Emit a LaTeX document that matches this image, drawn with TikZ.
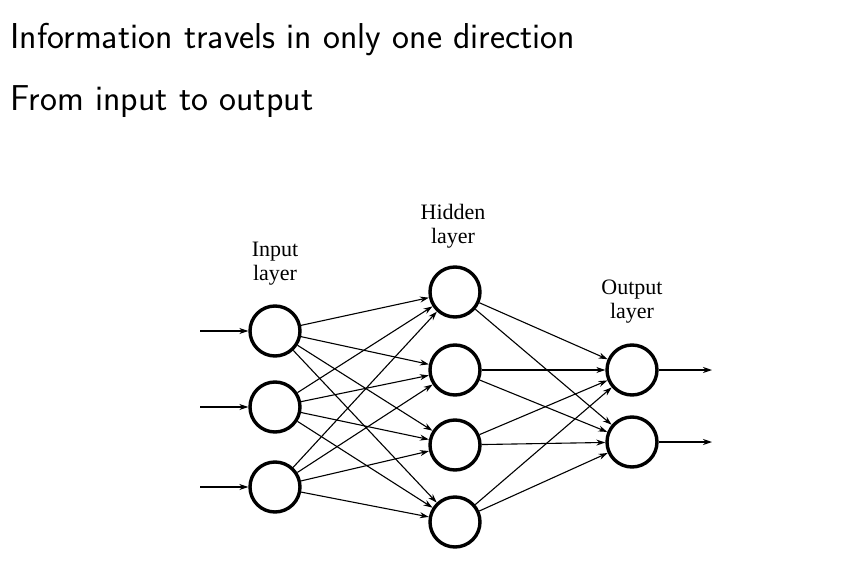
\documentclass[tikz,border=0pt]{standalone}
\usepackage{fontspec}
\newfontfamily\labelfont{Liberation Serif}
\usetikzlibrary{arrows.meta}
\tikzset{
  neuron/.style={circle,draw,line width=3.4pt,minimum size=50pt,inner sep=0pt},
  link/.style={-{Stealth[length=9pt,width=6pt]},line width=1.1pt},
  layername/.style={font=\labelfont\fontsize{22}{24}\selectfont,align=center},
  heading/.style={anchor=base west,font=\sffamily\fontsize{36}{38}\selectfont}
}
\begin{document}
\begin{tikzpicture}[x=1pt,y=-1pt]
    \useasboundingbox (0,0) rectangle (860,581);

    \node[heading] (t1) at (7,48) {Information travels in only one direction};
    \node[heading] (t2) at (7,110) {From input to output};

    % layers
    \foreach \i/\y in {1/331,2/407,3/487}
      \node[neuron] (in\i) at (275,\y) {};
    \foreach \i/\y in {1/292,2/370,3/445,4/522}
      \node[neuron] (hid\i) at (455,\y) {};
    \foreach \i/\y in {1/370,2/442}
      \node[neuron] (out\i) at (632,\y) {};

    \node[layername] (inlab) at (275,264) {Input\\layer};
    \node[layername] (hidlab) at (453,226) {Hidden\\layer};
    \node[layername] (outlab) at (632,302) {Output\\layer};

    % connections
    \foreach \i in {1,2,3}
      \foreach \j in {1,2,3,4}
        \draw[link] (in\i) -- (hid\j);
    \foreach \j in {1,2,3,4}
      \foreach \k in {1,2}
        \draw[link] (hid\j) -- (out\k);

    \foreach \i/\y in {1/331,2/407,3/487} {
      \coordinate (src\i) at (200,\y);
      \draw[link] (src\i) -- (in\i);
    }
    \foreach \k/\y in {1/370,2/442} {
      \coordinate (dst\k) at (712,\y);
      \draw[link] (out\k) -- (dst\k);
    }
\end{tikzpicture}
\end{document}
